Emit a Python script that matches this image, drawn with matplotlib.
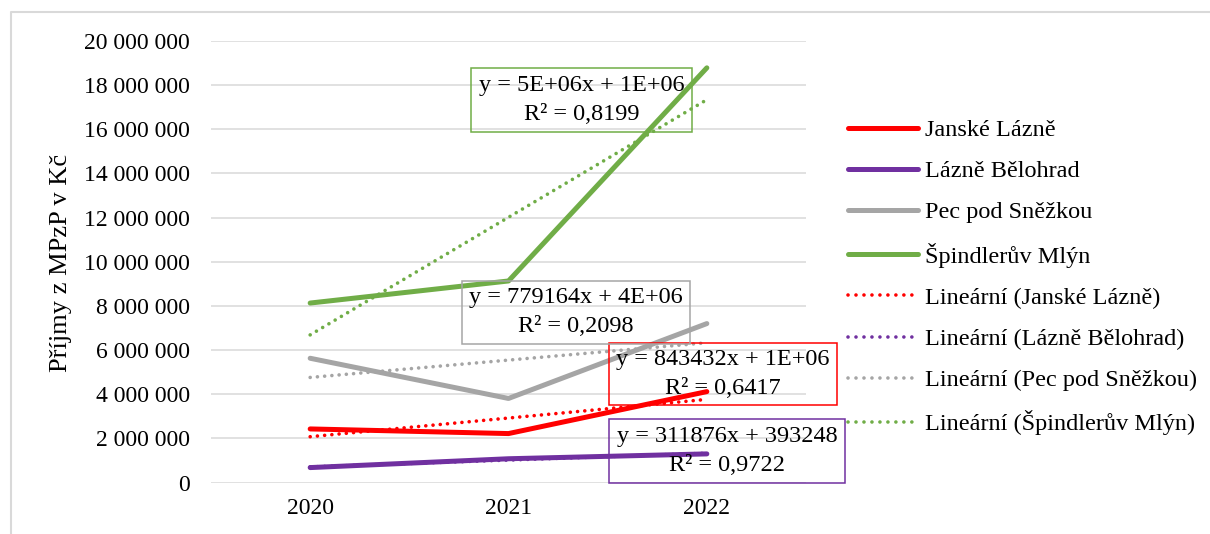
import numpy as np
import matplotlib
matplotlib.use('Agg')
import matplotlib.pyplot as plt
from matplotlib.lines import Line2D
from matplotlib.patches import Rectangle
from matplotlib.ticker import FuncFormatter

plt.rcParams['font.family'] = ['Liberation Serif', 'DejaVu Serif']

years = ['2020', '2021', '2022']
names = ['Janské Lázně', 'Lázně Bělohrad', 'Pec pod Sněžkou', 'Špindlerův Mlýn']
janske = [2430000, 2220000, 4120000]
belohrad = [680000, 1080000, 1300000]
pec = [5630000, 3810000, 7200000]
spindl = [8130000, 9130000, 18780000]
colors = ['#FF0000', '#7030A0', '#A5A5A5', '#70AD47']
eq_texts = ['y = 843432x + 1E+06\nR² = 0,6417',
            'y = 311876x + 393248\nR² = 0,9722',
            'y = 779164x + 4E+06\nR² = 0,2098',
            'y = 5E+06x + 1E+06\nR² = 0,8199']

W, H = 1210, 534
fig = plt.figure(figsize=(W / 100, H / 100), dpi=100)
ax = fig.add_axes([211 / W, 1 - 482.6 / H, 595 / W, 441.7 / H])

x = np.arange(1, 4)
series = [janske, belohrad, pec, spindl]
dots = (0, (0.01, 2.0))

for vals, c in zip(series, colors):
    ax.plot(x, vals, color=c, lw=3.6, solid_capstyle='round', zorder=3)
for vals, c in zip(series, colors):
    k, q = np.polyfit(x, vals, 1)  # linear trendline
    ax.plot(x, k * x + q, color=c, lw=2.6, linestyle=dots,
            dash_capstyle='round', zorder=4)

ax.set_xlim(0.5, 3.5)
ax.set_ylim(0, 20000000)
ax.set_yticks(np.arange(0, 20000001, 2000000))
ax.yaxis.set_major_formatter(FuncFormatter(lambda v, p: f"{int(v):,}".replace(',', ' ')))
ax.set_xticks(x)
ax.set_xticklabels(years)
ax.tick_params(axis='both', length=0, labelsize=17)
ax.tick_params(axis='y', pad=15)
ax.tick_params(axis='x', pad=11)
ax.grid(axis='y', color='#D9D9D9', lw=1.1)
ax.set_axisbelow(True)
for s in ax.spines.values():
    s.set_visible(False)

fig.text(61 / W, 1 - 263 / H, 'Příjmy z MPzP v Kč', rotation=90,
         ha='center', va='center', fontsize=19)

# trendline equation boxes (pixel boxes: x0, y0, x1, y1)
boxes = [(609, 343, 837, 405), (609, 419, 845, 483),
         (462, 281, 690, 344), (471, 68, 692, 132)]
for (x0, y0, x1, y1), c, t in zip(boxes, colors, eq_texts):
    fig.add_artist(Rectangle((x0 / W, 1 - y1 / H), (x1 - x0) / W, (y1 - y0) / H,
                             transform=fig.transFigure, fill=False,
                             edgecolor=c, lw=1.1, zorder=2))
    fig.text((x0 + x1) / 2 / W, 1 - (y0 + y1) / 2 / H, t, ha='center', va='center',
             fontsize=17.5, linespacing=1.5, zorder=2)

handles = [Line2D([], [], color=c, lw=3.6, solid_capstyle='round') for c in colors]
handles += [Line2D([], [], color=c, lw=2.6, linestyle=(0, (0.01, 2.2)),
                   dash_capstyle='round') for c in colors]
labels = names + [f'Lineární ({n})' for n in names]
fig.legend(handles, labels, loc='upper left', bbox_to_anchor=(848 / W, 1 - 119 / H),
           frameon=False, fontsize=17.5, handlelength=2.9, handletextpad=0.25,
           labelspacing=0.79, borderpad=0, borderaxespad=0)

# outer chart border (cropped at right and bottom)
fig.add_artist(Line2D([11 / W, 11 / W, 1.0], [0.0, 1 - 12 / H, 1 - 12 / H],
                      transform=fig.transFigure, color='#D9D9D9', lw=1.5))

fig.savefig('out.png', dpi=100)
